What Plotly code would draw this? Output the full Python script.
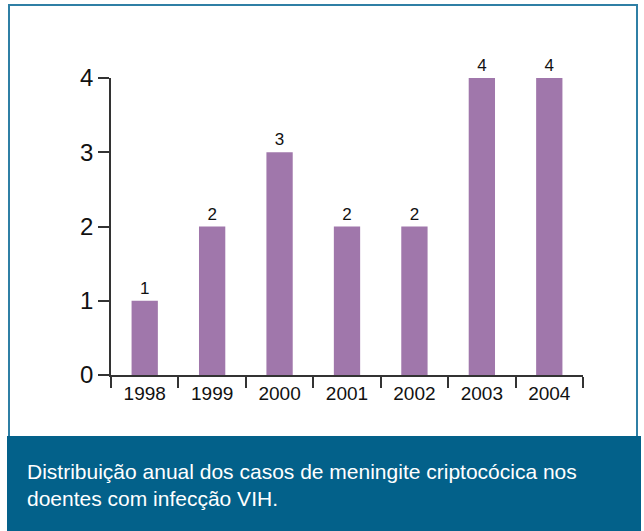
import plotly.graph_objects as go

years = ["1998", "1999", "2000", "2001", "2002", "2003", "2004"]
cases = [1, 2, 3, 2, 2, 4, 4]
caption_lines = ["Distribuição anual dos casos de meningite criptocócica nos",
                 "doentes com infecção VIH."]

W, H = 644, 531
PL, PR_, PT, PB = 111, 583, 78, 375
pw = PR_ - PL
ph = PB - PT
L, T = PL, PT
R = W - L - pw
B = H - T - ph

def px(x):
    return (x - PL) / pw

def py(y):
    return (PB - y) / ph

fig = go.Figure(go.Bar(
    x=years, y=cases, marker_color="#a077ab", marker_line_width=0,
    text=[str(v) for v in cases], textposition="outside", cliponaxis=False,
    textfont=dict(family="Liberation Sans, Arial", size=17, color="#111"),
))

fig.update_layout(
    width=W, height=H, margin=dict(l=L, r=R, t=T, b=B),
    paper_bgcolor="white", plot_bgcolor="white", showlegend=False,
    bargap=0.61,
    font=dict(family="Liberation Sans, Arial", color="#111"),
    xaxis=dict(type="category", showline=True, linecolor="#333", linewidth=1.5,
               ticks="outside", tickson="boundaries", ticklen=11, tickcolor="#333",
               tickwidth=1.5, tickfont=dict(size=19), showgrid=False, zeroline=False),
    yaxis=dict(range=[0, 4], dtick=1, showline=True, linecolor="#333", linewidth=1.5,
               ticks="outside", ticklen=11, tickcolor="#333", tickwidth=1.5,
               tickfont=dict(size=24), showgrid=False, zeroline=False),
    shapes=[
        dict(type="rect", xref="paper", yref="paper", x0=px(9), x1=px(637), y0=py(437), y1=py(5),
             line=dict(color="#2f7fa5", width=2), fillcolor="rgba(0,0,0,0)", layer="below"),
        dict(type="rect", xref="paper", yref="paper", x0=px(7), x1=px(641), y0=py(540), y1=py(436),
             line=dict(width=0), fillcolor="#03618a", layer="below"),
    ],
    annotations=[
        dict(xref="paper", yref="paper", x=px(25), y=py(485), xanchor="left", yanchor="middle",
             text="<br>".join(caption_lines), showarrow=False, align="left",
             font=dict(family="Liberation Sans, Arial", size=21, color="white")),
    ],
)

fig.write_html("out.html", config={"displayModeBar": False},
               post_script="document.body.style.margin='0';document.body.style.overflow='hidden';")
